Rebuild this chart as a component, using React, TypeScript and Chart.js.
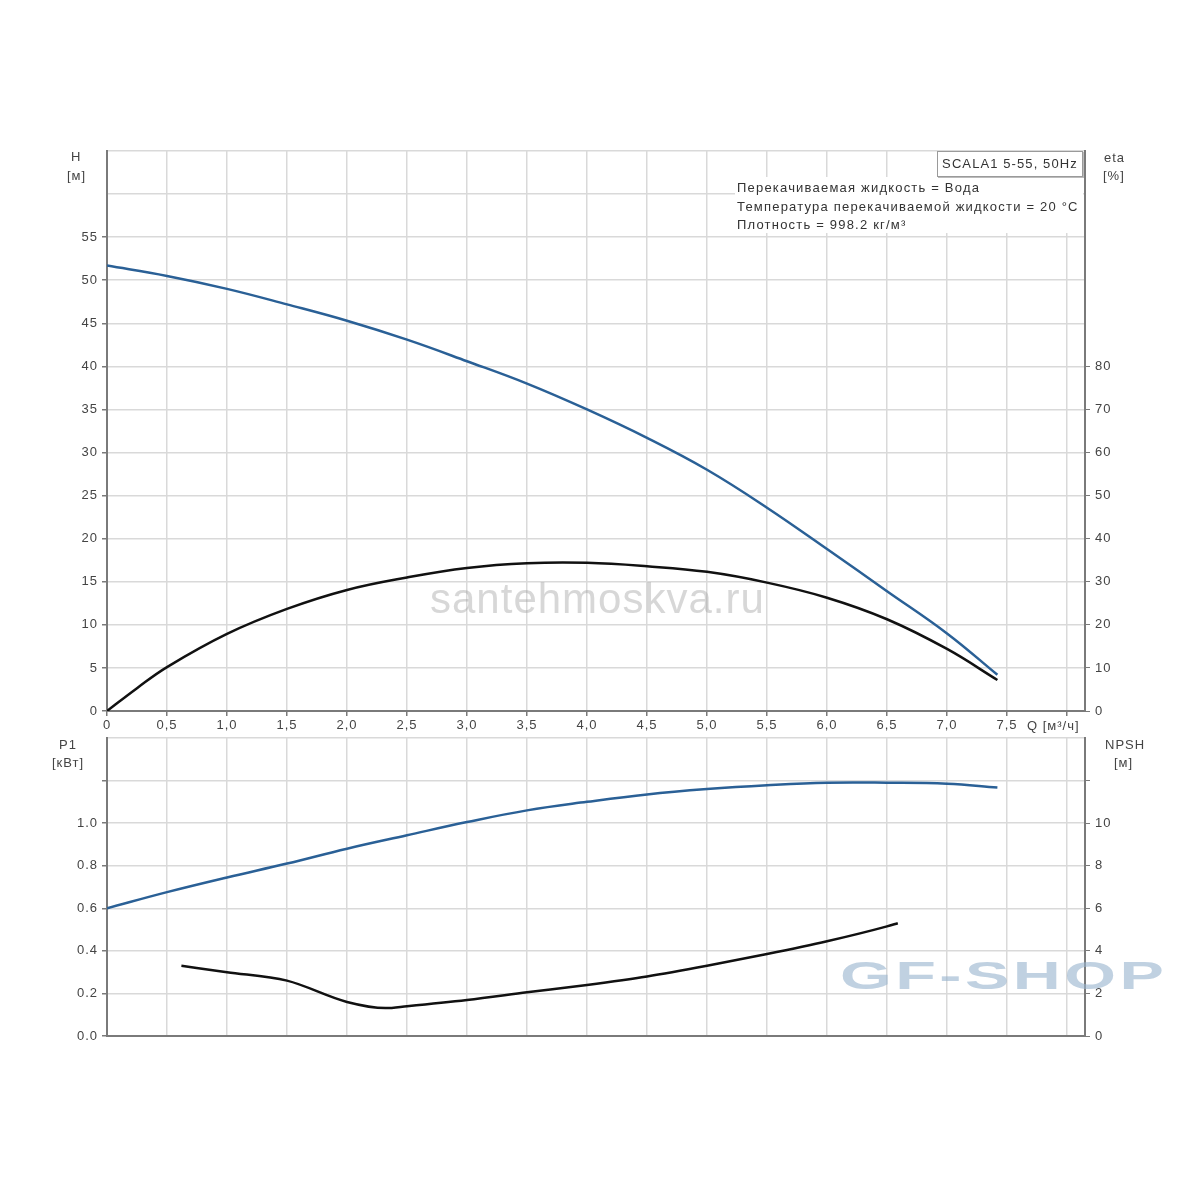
import React, { useEffect, useRef } from "react";
import { Chart, registerables } from "chart.js";

Chart.register(...registerables);

// ---- Data ----
const flowQ = [0, 0.5, 1, 1.5, 2, 2.5, 3, 3.5, 4, 4.5, 5, 5.5, 6, 6.5, 7, 7.42];
const headH = [51.7, 50.5, 49.0, 47.2, 45.3, 43.1, 40.6, 38.0, 35.0, 31.7, 28.0, 23.6, 18.8, 13.9, 9.0, 4.2];
const etaQ = [0, 0.25, 0.5, 1, 1.5, 2, 2.5, 3, 3.5, 4, 4.5, 5, 5.5, 6, 6.5, 7, 7.42];
const etaPct = [0, 5.3, 10.2, 17.9, 23.7, 28.1, 31.0, 33.2, 34.3, 34.4, 33.6, 32.3, 29.8, 26.3, 21.3, 14.4, 7.2];
const powerP1 = [0.6, 0.676, 0.745, 0.81, 0.88, 0.943, 1.005, 1.06, 1.1, 1.135, 1.16, 1.178, 1.19, 1.19, 1.185, 1.167];
const npshQ = [0.62, 1.0, 1.5, 2.0, 2.32, 2.5, 3.0, 3.5, 4.0, 4.5, 5.0, 5.5, 6.0, 6.5, 6.59];
const npshM = [3.3, 3.0, 2.6, 1.6, 1.31, 1.4, 1.69, 2.05, 2.4, 2.8, 3.3, 3.85, 4.45, 5.15, 5.3];

const xTicks = [0, 0.5, 1, 1.5, 2, 2.5, 3, 3.5, 4, 4.5, 5, 5.5, 6, 6.5, 7, 7.5, 8];
const hTicks = [0, 5, 10, 15, 20, 25, 30, 35, 40, 45, 50, 55, 60, 65];
const etaTicks = [0, 10, 20, 30, 40, 50, 60, 70, 80];
const p1Ticks = [0, 0.2, 0.4, 0.6, 0.8, 1.0, 1.2, 1.4];
const npshTicks = [0, 2, 4, 6, 8, 10, 12];

const BLUE = "#2a6096";
const BLACK = "#111111";
const GRID = "#d9d9d9";
const AXIS = "#7a7a7a";
const TXT = "#444444";
const FONT = "'Liberation Sans', Arial, sans-serif";

const pts = (xs: number[], ys: number[]) => xs.map((x, i) => ({ x, y: ys[i] }));
const setTicks = (vals: number[]) => (scale: any) => {
  scale.ticks = vals.map((v) => ({ value: v }));
};
const fixW = (w: number) => (scale: any) => {
  scale.width = w;
};
const fixH = (h: number) => (scale: any) => {
  scale.height = h;
};
const commaLabel = (v: number) => (v === 0 ? "0" : v.toFixed(1).replace(".", ","));

const spacingPlugin = {
  id: "letterSpacing",
  beforeUpdate(chart: any) {
    (chart.ctx as any).letterSpacing = "1px";
  },
  beforeDraw(chart: any) {
    (chart.ctx as any).letterSpacing = "1px";
  },
};

function xScale(showLabels: boolean, height: number) {
  return {
    type: "linear",
    min: 0,
    max: 8.15,
    afterBuildTicks: setTicks(xTicks),
    afterFit: fixH(height),
    border: { color: AXIS, width: 2 },
    grid: {
      color: GRID,
      lineWidth: 1.5,
      drawTicks: showLabels,
      tickLength: 5,
      tickColor: AXIS,
    },
    ticks: {
      display: showLabels,
      autoSkip: false,
      maxRotation: 0,
      padding: 2,
      color: TXT,
      font: { family: FONT, size: 13 },
      callback: (v: any) => (Number(v) > 7.6 ? "" : commaLabel(Number(v))),
    },
  };
}

const smooth = { borderWidth: 2.5, pointRadius: 0, tension: 0.4 };

export default function App() {
  const topRef = useRef<HTMLCanvasElement>(null);
  const botRef = useRef<HTMLCanvasElement>(null);

  useEffect(() => {
    const top = new Chart(topRef.current as HTMLCanvasElement, {
      type: "line",
      plugins: [spacingPlugin],
      data: {
        datasets: [
          { label: "H", data: pts(flowQ, headH), yAxisID: "y", borderColor: BLUE, ...smooth },
          { label: "eta", data: pts(etaQ, etaPct), yAxisID: "y2", borderColor: BLACK, ...smooth },
        ],
      },
      options: {
        responsive: false,
        animation: false,
        layout: { padding: { top: 151, left: 0, right: 0, bottom: 0 } },
        plugins: { legend: { display: false }, tooltip: { enabled: false } },
        scales: {
          x: xScale(true, 24) as any,
          y: {
            type: "linear",
            position: "left",
            min: 0,
            max: 65,
            afterBuildTicks: setTicks(hTicks),
            afterFit: fixW(107),
            border: { color: AXIS, width: 2 },
            grid: {
              color: GRID,
              lineWidth: 1.5,
              tickLength: 5,
              tickColor: (c: any) => (c.tick && c.tick.value > 55 ? "rgba(0,0,0,0)" : AXIS),
            },
            ticks: {
              color: TXT,
              padding: 4,
              font: { family: FONT, size: 13 },
              callback: (v: any) => (Number(v) > 55 ? "" : String(v)),
            },
          },
          y2: {
            type: "linear",
            position: "right",
            min: 0,
            max: 130,
            afterBuildTicks: setTicks(etaTicks),
            afterFit: fixW(115),
            border: { color: AXIS, width: 2 },
            grid: { drawOnChartArea: false, tickLength: 5, tickColor: AXIS },
            ticks: { color: TXT, padding: 5, font: { family: FONT, size: 13 } },
          },
        },
      } as any,
    });

    const bot = new Chart(botRef.current as HTMLCanvasElement, {
      type: "line",
      plugins: [spacingPlugin],
      data: {
        datasets: [
          { label: "P1", data: pts(flowQ, powerP1), yAxisID: "y", borderColor: BLUE, ...smooth },
          {
            label: "NPSH",
            data: pts(npshQ, npshM),
            yAxisID: "y2",
            borderColor: BLACK,
            borderWidth: 2.5,
            pointRadius: 0,
            cubicInterpolationMode: "monotone",
          },
        ],
      },
      options: {
        responsive: false,
        animation: false,
        layout: { padding: { top: 18, left: 0, right: 0, bottom: 0 } },
        plugins: { legend: { display: false }, tooltip: { enabled: false } },
        scales: {
          x: xScale(false, 164) as any,
          y: {
            type: "linear",
            position: "left",
            min: 0,
            max: 1.4,
            afterBuildTicks: setTicks(p1Ticks),
            afterFit: fixW(107),
            border: { color: AXIS, width: 2 },
            grid: {
              color: GRID,
              lineWidth: 1.5,
              tickLength: 5,
              tickColor: (c: any) => (c.tick && c.tick.value > 1.3 ? "rgba(0,0,0,0)" : AXIS),
            },
            ticks: {
              color: TXT,
              padding: 4,
              font: { family: FONT, size: 13 },
              callback: (v: any) => (Number(v) > 1.1 ? "" : Number(v).toFixed(1)),
            },
          },
          y2: {
            type: "linear",
            position: "right",
            min: 0,
            max: 14,
            afterBuildTicks: setTicks(npshTicks),
            afterFit: fixW(115),
            border: { color: AXIS, width: 2 },
            grid: { drawOnChartArea: false, tickLength: 5, tickColor: AXIS },
            ticks: {
              color: TXT,
              padding: 5,
              font: { family: FONT, size: 13 },
              callback: (v: any) => (Number(v) > 11 ? "" : String(v)),
            },
          },
        },
      } as any,
    });

    return () => {
      top.destroy();
      bot.destroy();
    };
  }, []);

  const label = (text: string, left: number, top: number, extra: any = {}) => (
    <div
      style={{
        position: "absolute",
        left,
        top,
        font: `13px ${FONT}`,
        letterSpacing: "1px",
        color: TXT,
        whiteSpace: "nowrap",
        lineHeight: "14px",
        ...extra,
      }}
    >
      {text}
    </div>
  );

  const info = { color: "#333", fontSize: 13, letterSpacing: "1.2px" };

  return (
    <div
      style={{
        position: "absolute",
        left: 0,
        top: 0,
        width: 1200,
        height: 1200,
        background: "#ffffff",
        overflow: "hidden",
      }}
    >
      <canvas ref={topRef} width={1200} height={735} style={{ position: "absolute", left: 0, top: 0 }} />
      <canvas ref={botRef} width={1200} height={480} style={{ position: "absolute", left: 0, top: 720 }} />

      {/* axis titles */}
      {label("H", 71, 150)}
      {label("[м]", 67, 169)}
      {label("eta", 1104, 151)}
      {label("[%]", 1103, 169)}
      {label("P1", 59, 738)}
      {label("[кВт]", 52, 756)}
      {label("NPSH", 1105, 738)}
      {label("[м]", 1114, 756)}
      {label("Q [м³/ч]", 1027, 719)}

      {/* info box */}
      <div
        style={{ position: "absolute", left: 735, top: 177, width: 348, height: 56, background: "#ffffff" }}
      />
      <div
        style={{
          position: "absolute",
          left: 937,
          top: 151,
          width: 144,
          height: 24,
          background: "#ffffff",
          border: "1px solid #9a9a9a",
          boxShadow: "1px 1px 0 #bbbbbb",
          font: `13px ${FONT}`,
          letterSpacing: "1.1px",
          color: "#333",
          lineHeight: "24px",
          textAlign: "center",
          whiteSpace: "nowrap",
        }}
      >
        SCALA1 5-55, 50Hz
      </div>
      {label("Перекачиваемая жидкость = Вода", 737, 181, info)}
      {label("Температура перекачиваемой жидкости = 20 °C", 737, 200, info)}
      {label("Плотность = 998.2 кг/м³", 737, 218, info)}

      {/* watermarks */}
      <div
        style={{
          position: "absolute",
          left: 430,
          top: 575,
          font: `42px ${FONT}`,
          letterSpacing: "1px",
          color: "rgba(160,160,160,0.42)",
          whiteSpace: "nowrap",
          lineHeight: "48px",
          pointerEvents: "none",
        }}
      >
        santehmoskva.ru
      </div>
      <div
        style={{
          position: "absolute",
          left: 840,
          top: 954,
          font: `900 38px ${FONT}`,
          color: "rgba(150,178,205,0.6)",
          letterSpacing: "2px",
          whiteSpace: "nowrap",
          lineHeight: "44px",
          pointerEvents: "none",
          transform: "scaleX(1.75)",
          transformOrigin: "left top",
        }}
      >
        GF-SHOP
      </div>
    </div>
  );
}
